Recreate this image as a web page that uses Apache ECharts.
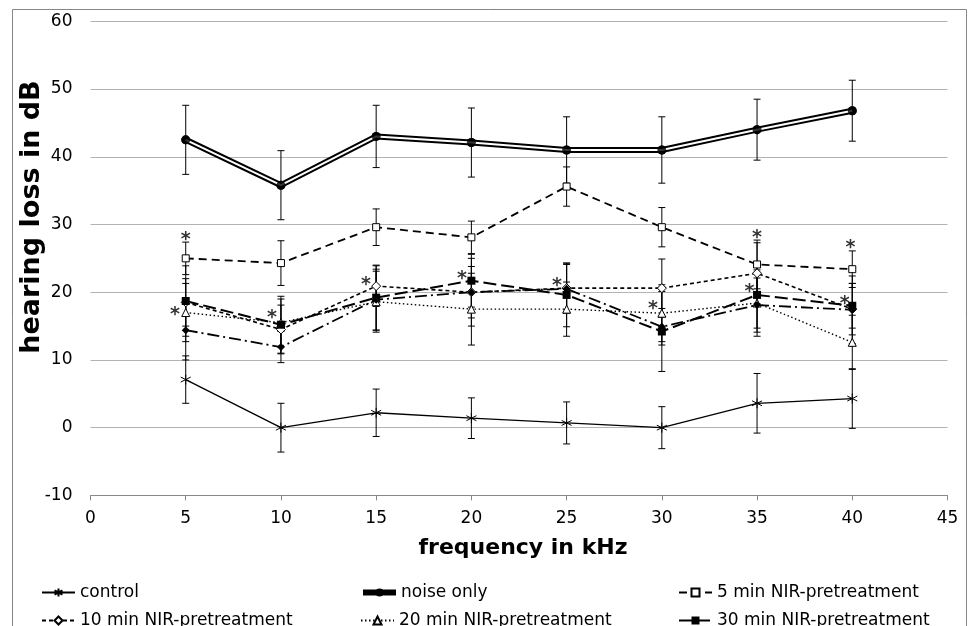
<!DOCTYPE html>
<html><head><meta charset="utf-8">
<script src="https://cdn.jsdelivr.net/npm/echarts@6/dist/echarts.min.js"></script>
<style>html,body{margin:0;padding:0;background:#fff}#c{width:969px;height:626px}</style>
</head><body><div id="c"></div>
<script>
const FONT = 'DejaVu Sans';
const freqs = [5, 10, 15, 20, 25, 30, 35, 40];
const control = [7.1, 0.0, 2.2, 1.4, 0.7, 0.0, 3.6, 4.3];
const controlErr = [3.5, 3.6, 3.5, 3.0, 3.1, 3.1, 4.4, 4.4];
const noiseOnly = [42.5, 35.8, 43.0, 42.1, 41.0, 41.0, 44.0, 46.8];
const noiseErr = [5.1, 5.1, 4.6, 5.1, 4.9, 4.9, 4.5, 4.5];
const nir5 = [25.0, 24.3, 29.6, 28.1, 35.6, 29.6, 24.1, 23.4];
const nir5Err = [2.4, 3.3, 2.7, 2.4, 2.9, 2.9, 3.6, 2.7];
const nir10 = [18.5, 14.5, 20.9, 20.0, 20.6, 20.6, 22.8, 17.5];
const nir10Err = [3.5, 3.6, 3.0, 3.8, 3.7, 4.3, 4.5, 3.8];
const nir20 = [17.0, 15.5, 18.6, 17.5, 17.5, 16.9, 18.4, 12.6];
const nir20Err = [4.3, 3.5, 4.5, 5.3, 4.0, 4.2, 4.9, 4.0];
const nir30 = [18.7, 15.2, 19.2, 21.7, 19.6, 14.2, 19.6, 18.0];
const nir30Err = [5.2, 4.2, 4.8, 3.9, 4.7, 5.9, 4.9, 3.3];
const series7 = [14.4, 11.9, 18.9, 20.0, 20.5, 14.9, 18.1, 17.4];
const series7Err = [4.4, 2.3, 4.5, 5.0, 3.6, 2.7, 4.0, 5.0];
const starX = [5, 4.44, 9.53, 14.47, 19.5, 24.5, 29.54, 35, 34.6, 39.9, 39.6];
const starY = [28.5, 17.4, 16.9, 21.8, 22.7, 21.7, 18.3, 28.8, 20.8, 27.3, 19.0];
const legendNames = ['control', 'noise only', '5 min NIR-pretreatment', '10 min NIR-pretreatment', '20 min NIR-pretreatment', '30 min NIR-pretreatment'];

const pts = v => freqs.map((f, i) => [f, v[i]]);
const errPts = (v, e) => freqs.map((f, i) => [f, v[i], e[i]]);

function errSeries(v, e) {
  return {
    type: 'custom', silent: true, z: 1,
    encode: { x: 0, y: 1 },
    data: errPts(v, e),
    renderItem: function (params, api) {
      const x = api.value(0), y = api.value(1), d = api.value(2);
      const t = api.coord([x, y + d]), b = api.coord([x, y - d]);
      const w = 3.5, st = { stroke: '#000', lineWidth: 1 };
      return { type: 'group', children: [
        { type: 'line', shape: { x1: t[0], y1: t[1], x2: b[0], y2: b[1] }, style: st },
        { type: 'line', shape: { x1: t[0] - w, y1: t[1], x2: t[0] + w, y2: t[1] }, style: st },
        { type: 'line', shape: { x1: b[0] - w, y1: b[1], x2: b[0] + w, y2: b[1] }, style: st }
      ] };
    }
  };
}

const asterisk = 'path://M0,-5L0,5M-4.33,-2.5L4.33,2.5M-4.33,2.5L4.33,-2.5';

const series = [
  errSeries(control, controlErr),
  errSeries(noiseOnly, noiseErr),
  errSeries(nir5, nir5Err),
  errSeries(nir10, nir10Err),
  errSeries(nir20, nir20Err),
  errSeries(nir30, nir30Err),
  errSeries(series7, series7Err),
  { name: 'control', type: 'line', data: pts(control), z: 3,
    lineStyle: { color: '#000', width: 1.3 },
    symbol: asterisk, symbolSize: 10,
    itemStyle: { color: '#000', borderColor: '#000', borderWidth: 1 } },
  { name: 'noise only', type: 'line', data: pts(noiseOnly), z: 3,
    lineStyle: { color: '#000', width: 6 },
    symbol: 'circle', symbolSize: 9, itemStyle: { color: '#000' } },
  { type: 'line', data: pts(noiseOnly), z: 4, silent: true, symbol: 'none',
    lineStyle: { color: '#fff', width: 2 } },
  { type: 'scatter', data: pts(noiseOnly), z: 5, silent: true,
    symbol: 'circle', symbolSize: 9, itemStyle: { color: '#000' } },
  { name: '5 min NIR-pretreatment', type: 'line', data: pts(nir5), z: 3,
    lineStyle: { color: '#000', width: 1.8, type: [8, 5] },
    symbol: 'rect', symbolSize: 7,
    itemStyle: { color: '#fff', borderColor: '#000', borderWidth: 1 } },
  { name: '10 min NIR-pretreatment', type: 'line', data: pts(nir10), z: 3,
    lineStyle: { color: '#000', width: 1.6, type: [4, 3] },
    symbol: 'diamond', symbolSize: 9,
    itemStyle: { color: '#fff', borderColor: '#000', borderWidth: 1 } },
  { name: '20 min NIR-pretreatment', type: 'line', data: pts(nir20), z: 3,
    lineStyle: { color: '#000', width: 1.4, type: [1.5, 2.5] },
    symbol: 'triangle', symbolSize: 8,
    itemStyle: { color: '#fff', borderColor: '#000', borderWidth: 1 } },
  { name: '30 min NIR-pretreatment', type: 'line', data: pts(nir30), z: 3,
    lineStyle: { color: '#000', width: 2, type: [13, 5] },
    symbol: 'rect', symbolSize: 8, itemStyle: { color: '#000' } },
  { name: 'series 7', type: 'line', data: pts(series7), z: 3,
    lineStyle: { color: '#000', width: 1.8, type: [12, 4, 2, 4] },
    symbol: 'diamond', symbolSize: 8, itemStyle: { color: '#000' } },
  { type: 'scatter', data: starX.map((x, i) => [x, starY[i]]), z: 6, silent: true,
    symbol: 'circle', symbolSize: 1, itemStyle: { color: 'rgba(0,0,0,0)' },
    label: { show: true, position: 'inside', formatter: '*', fontFamily: FONT,
      fontWeight: 'bold', fontSize: 19, color: '#000', offset: [0, 5] } }
];

const legendPos = [[41, 584], [360, 584], [678, 584], [41, 612], [360, 612], [678, 612]];

const option = {
  animation: false,
  backgroundColor: '#fff',
  textStyle: { fontFamily: FONT },
  grid: { left: 90.5, right: 21.5, top: 21.3, bottom: 130.6 },
  xAxis: {
    type: 'value', min: 0, max: 45, interval: 5,
    axisLine: { show: true, onZero: false, lineStyle: { color: '#898989', width: 1 } },
    axisTick: { show: true, length: 5, lineStyle: { color: '#898989' } },
    splitLine: { show: false },
    axisLabel: { color: '#000', fontSize: 17, fontFamily: FONT, margin: 15 }
  },
  yAxis: {
    type: 'value', min: -10, max: 60, interval: 10,
    axisLine: { show: false }, axisTick: { show: false },
    splitLine: { show: true, lineStyle: { color: '#b3b3b3', width: 1 } },
    axisLabel: { color: '#000', fontSize: 17, fontFamily: FONT, margin: 18 }
  },
  legend: legendNames.map((n, i) => ({
    data: [n === 'noise only' ? { name: n, lineStyle: { width: 6 } } : n],
    left: legendPos[i][0], top: legendPos[i][1], padding: 0,
    itemWidth: 33, itemHeight: 10, selectedMode: false,
    textStyle: { fontFamily: FONT, fontSize: 17, color: '#000' }
  })),
  graphic: [
    { type: 'rect', silent: true, z: -1,
      shape: { x: 12.5, y: 9.5, width: 954, height: 660 },
      style: { fill: 'none', stroke: '#868686', lineWidth: 1 } },
    { type: 'text', x: 31.5, y: 217, rotation: Math.PI / 2,
      style: { text: 'hearing loss in dB', font: 'bold 27px "DejaVu Sans"', fill: '#000', align: 'center', verticalAlign: 'middle' } },
    { type: 'text', x: 523, y: 548,
      style: { text: 'frequency in kHz', font: 'bold 22px "DejaVu Sans"', fill: '#000', align: 'center', verticalAlign: 'middle' } }
  ],
  series: series
};

const chart = echarts.init(document.getElementById('c'), null, { renderer: 'canvas' });
chart.setOption(option);
</script>
</body></html>
